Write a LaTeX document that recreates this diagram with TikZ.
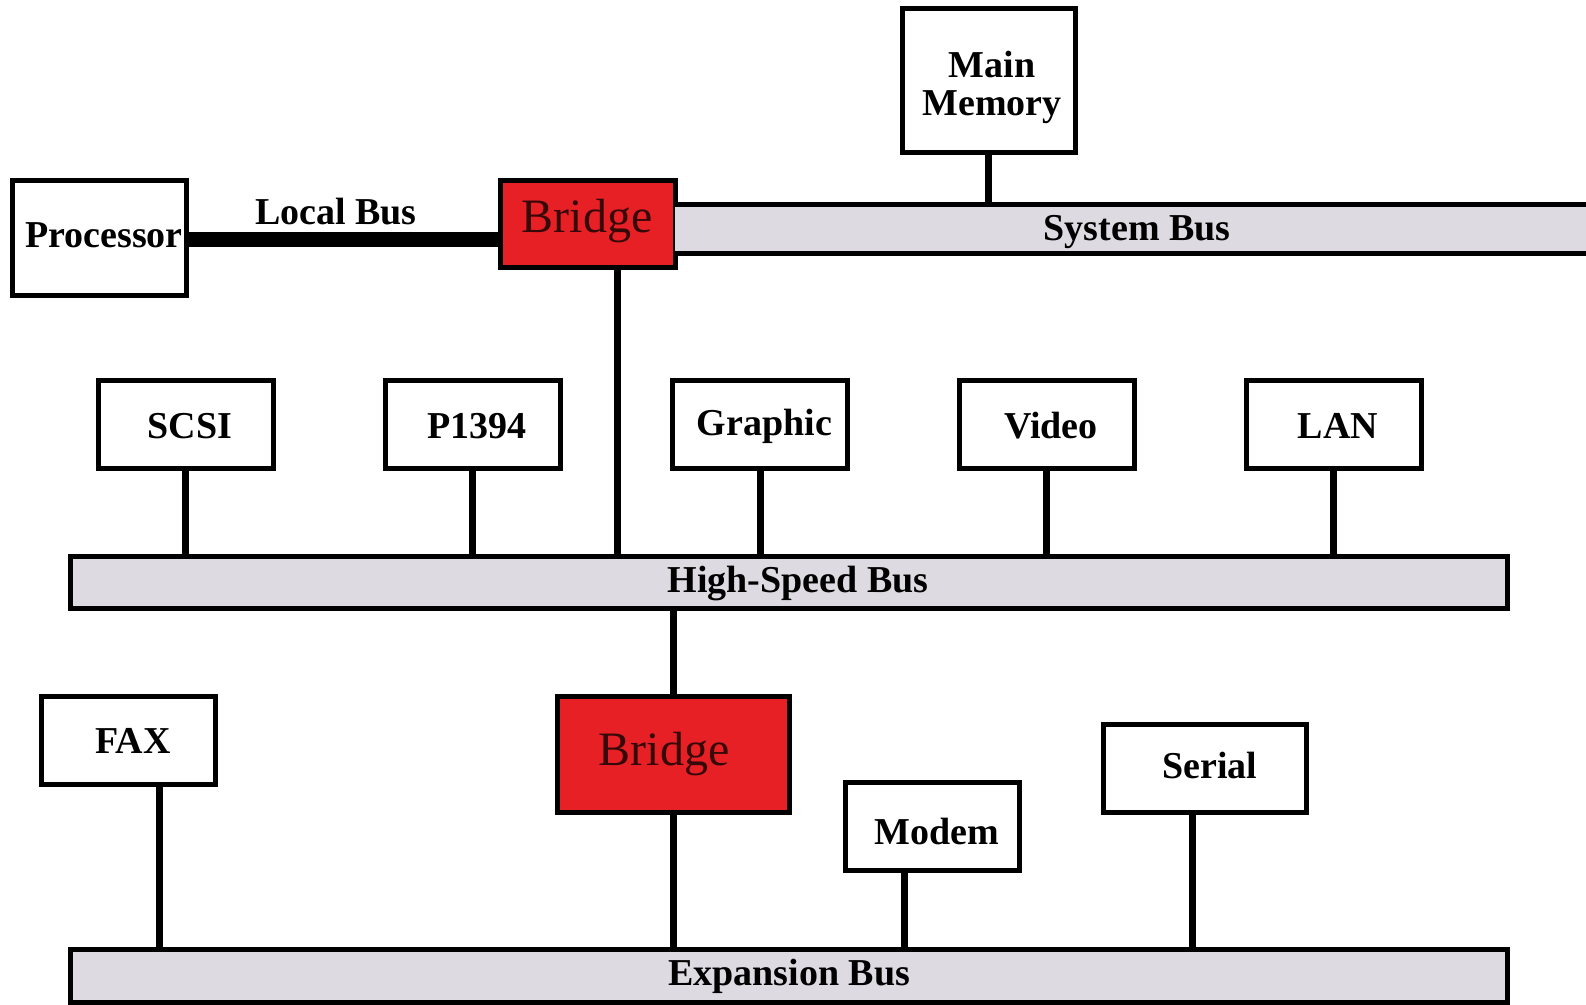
\documentclass[tikz,border=0pt]{standalone}
\usepackage{fontspec}
\setmainfont{Liberation Serif}
\usetikzlibrary{calc}
\definecolor{bridgered}{RGB}{231,32,38}
\definecolor{busgray}{RGB}{221,219,225}
\definecolor{bridgetext}{RGB}{55,8,8}
\newcommand{\lblfont}{\bfseries\fontsize{38}{38}\selectfont}
\newcommand{\brfont}{\fontsize{48}{48}\selectfont\color{bridgetext}}
\begin{document}
\begin{tikzpicture}[x=1pt,y=-1pt]
\tikzset{
  unit/.style={draw, line width=5pt, fill=white, inner sep=0pt,
               minimum width=175pt, minimum height=88pt},
  bridgebox/.style={draw, line width=5pt, fill=bridgered, inner sep=0pt},
  busbar/.style={draw, line width=5pt, fill=busgray, inner sep=0pt},
  conn/.style={line width=7pt},
  lbl/.style={inner sep=0pt, font=\lblfont, align=center},
  brlbl/.style={inner sep=0pt, font=\brfont},
}
\fill[white] (0,0) rectangle (1586,1004);
\useasboundingbox (0,0) rectangle (1586,1004);

% Processor and local bus
\node[unit, minimum width=174pt, minimum height=115pt] (proc) at (99,237.5) {};
\node[lbl] (proctext) at (104,235) {Processor};
\node[bridgebox, minimum width=175pt, minimum height=87pt] (bridgeA) at (587.5,223.5) {};
\node[brlbl] (bridgeAtext) at (587,221) {Bridge};
\coordinate (lbusy) at (0,239);
\draw[line width=15pt] (proc.east |- lbusy) -- (bridgeA.west |- lbusy);
\node[lbl] (lbuslabel) at (336,212) {Local Bus};

% System bus (open to the right)
\node[fill=busgray, inner sep=0pt, minimum width=925pt, minimum height=48pt,
      anchor=west] (sysbus) at (675,229) {};
\draw[line width=5pt] (sysbus.north west) -- (sysbus.north east);
\draw[line width=5pt] (sysbus.south west) -- (sysbus.south east);
\node[lbl] (sysbuslabel) at (1137,232) {System Bus};

% Main memory
\node[unit, minimum width=173pt, minimum height=144pt] (mem) at (988.5,80) {};
\node[lbl] (memtext) at (992,87) {Main\\Memory};
\draw[conn] (mem.south) -- (mem.south |- sysbus.north);

% High-speed bus and its devices
\node[busbar, minimum width=1437pt, minimum height=52pt] (hsbus) at (788.5,582) {};
\node[lbl] (hslabel) at (798,583) {High-Speed Bus};

\foreach \dev/\x/\txt in {scsi/185.5/SCSI, p1394/472.5/P1394, graphic/760/Graphic,
                          video/1046.5/Video, lan/1333.5/LAN} {
  \node[unit] (\dev) at (\x,424) {};
  \node[lbl] (\dev text) at ([shift={(4.5,2)}]\dev.center) {\txt};
  \draw[conn] (\dev.south) -- (\dev.south |- hsbus.north);
}

\path ([xshift=29.5pt]bridgeA.south) coordinate (brAdown);
\draw[conn] (brAdown) -- (brAdown |- hsbus.north);

% Expansion bridge and expansion bus
\node[bridgebox, minimum width=232pt, minimum height=116pt] (bridgeB) at (673,754) {};
\node[brlbl] (bridgeBtext) at (664,754) {Bridge};
\draw[conn] (bridgeB.north) -- (bridgeB.north |- hsbus.south);

\node[busbar, minimum width=1437pt, minimum height=53pt] (expbus) at (788.5,975.5) {};
\node[lbl] (explabel) at (789,976) {Expansion Bus};

\node[unit, minimum width=174pt] (fax) at (128,740) {};
\node[lbl] (faxtext) at (133,741) {FAX};
\node[unit, minimum width=174pt] (modem) at (932,826) {};
\node[lbl] (modemtext) at (937,831) {Modem};
\node[unit, minimum width=203pt] (serial) at (1204.5,768) {};
\node[lbl] (serialtext) at (1210,765) {Serial};

\path ([xshift=31pt]fax.south) coordinate (faxdown);
\path ([xshift=-28pt]modem.south) coordinate (modemdown);
\path ([xshift=-12.5pt]serial.south) coordinate (serialdown);
\draw[conn] (faxdown) -- (faxdown |- expbus.north);
\draw[conn] (bridgeB.south) -- (bridgeB.south |- expbus.north);
\draw[conn] (modemdown) -- (modemdown |- expbus.north);
\draw[conn] (serialdown) -- (serialdown |- expbus.north);
\end{tikzpicture}
\end{document}
